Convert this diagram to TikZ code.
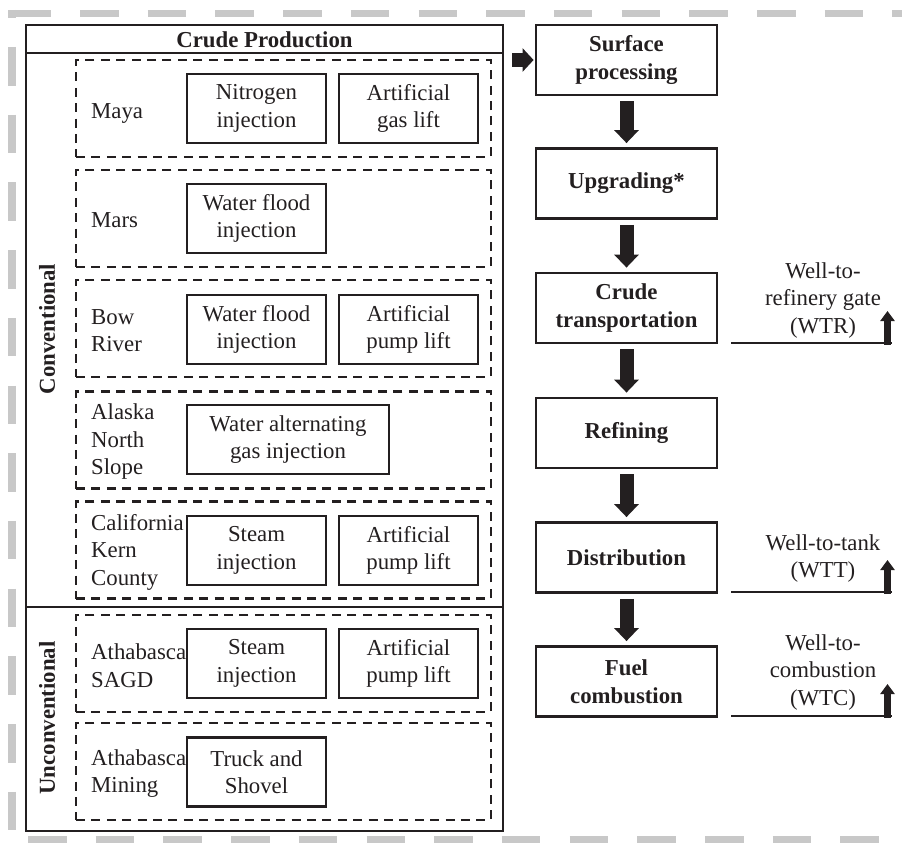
\documentclass[tikz,border=0pt]{standalone}
\usepackage{fontspec}
\setmainfont{Liberation Serif}
\usetikzlibrary{arrows.meta}
\definecolor{framegray}{HTML}{C8C8C8}
\definecolor{ink}{HTML}{231F20}
\begin{document}
\begin{tikzpicture}[x=1pt,y=-1pt,
  every node/.style={font=\fontsize{22.8}{27.5}\selectfont, text=ink},
  frameline/.style={draw=framegray, line width=7.5pt, dash pattern=on 38.5pt off 29.2pt},
  sbox/.style={draw=ink, line width=2.8pt, inner sep=0pt, minimum width=139pt, minimum height=69pt, align=center},
  grp/.style={draw=ink, line width=2.7pt, dash pattern=on 9pt off 6.4pt, minimum width=415pt, minimum height=97pt, inner sep=0pt},
  lbl/.style={anchor=west, align=left, inner sep=0pt},
  stage/.style={draw=ink, line width=2.8pt, inner sep=0pt, minimum width=181pt, minimum height=70pt, align=center, font=\fontsize{22.8}{27.5}\selectfont\bfseries},
  flow/.style={draw=ink, line width=14pt, -{Triangle[width=24pt,length=13pt]}, shorten <=5pt, shorten >=4pt},
  upflow/.style={draw=ink, line width=6.5pt, -{Triangle[width=14pt,length=10pt]}},
  bound/.style={draw=ink, line width=2.8pt},
  wlabel/.style={align=center, inner sep=0pt}
]
\useasboundingbox (0,0) rectangle (902,843);

% decorative gray frame
\draw[frameline] (12.3,13.5) -- (902,13.5);
\draw[frameline, dash phase=30.7pt] (12,10) -- (12,843);
\draw[frameline] (28,840) -- (902,840);

% crude production panel
\node[draw=ink, line width=2.8pt, minimum width=477pt, minimum height=806pt, inner sep=0pt] (prod) at (264.5,428) {};
\node[font=\fontsize{22.8}{27.5}\selectfont\bfseries] (prodtitle) at (264.5,39.5) {Crude Production};
\coordinate (hdrL) at (26,53);
\coordinate (hdrR) at (503,53);
\draw[bound] (hdrL) -- (hdrR);
\coordinate (divL) at (26,607);
\coordinate (divR) at (503,607);
\draw[bound] (divL) -- (divR);
\node[rotate=90, font=\fontsize{22.8}{27.5}\selectfont\bfseries] (conv) at (47,329) {Conventional};
\node[rotate=90, font=\fontsize{22.8}{27.5}\selectfont\bfseries] (unconv) at (47,718) {Unconventional};

% groups
\node[grp] (g1) at (283.5,108.5) {};
\node[grp] (g2) at (283.5,218.5) {};
\node[grp] (g3) at (283.5,328.5) {};
\node[grp] (g4) at (283.5,440) {};
\node[grp] (g5) at (283.5,550) {};
\node[grp] (g6) at (283.5,663.5) {};
\node[grp] (g7) at (283.5,771.5) {};

\node[lbl] (l1) at (91,113) {Maya};
\node[lbl] (l2) at (91,220.5) {Mars};
\node[lbl] (l3) at (91,330.5) {Bow\\River};
\node[lbl] (l4) at (91,442) {Alaska\\North\\Slope};
\node[lbl] (l5) at (91,552) {California\\Kern\\County};
\node[lbl] (l6) at (91,665.5) {Athabasca\\SAGD};
\node[lbl] (l7) at (91,773.5) {Athabasca\\Mining};

\node[sbox] (b1a) at (256.5,108.5) {Nitrogen\\injection};
\node[sbox] (b1b) at (408.5,108.5) {Artificial\\gas lift};
\node[sbox] (b2a) at (256.5,218.5) {Water flood\\injection};
\node[sbox] (b3a) at (256.5,329.5) {Water flood\\injection};
\node[sbox] (b3b) at (408.5,329.5) {Artificial\\pump lift};
\node[sbox, minimum width=202pt] (b4a) at (288,439.5) {Water alternating\\gas injection};
\node[sbox] (b5a) at (256.5,550.5) {Steam\\injection};
\node[sbox] (b5b) at (408.5,550.5) {Artificial\\pump lift};
\node[sbox] (b6a) at (256.5,663.5) {Steam\\injection};
\node[sbox] (b6b) at (408.5,663.5) {Artificial\\pump lift};
\node[sbox] (b7a) at (256.5,772) {Truck and\\Shovel};

% stages
\node[stage] (surf) at (626.5,60) {Surface\\processing};
\node[stage] (upg) at (626.5,183.5) {Upgrading*};
\node[stage] (trans) at (626.5,308) {Crude\\transportation};
\node[stage] (refi) at (626.5,433) {Refining};
\node[stage] (dist) at (626.5,557.5) {Distribution};
\node[stage] (comb) at (626.5,681.5) {Fuel\\combustion};

\draw[flow, line width=14pt, -{Triangle[width=23pt,length=11pt]}, shorten <=8pt, shorten >=1pt] (prod.east |- surf.west) -- (surf.west);
\draw[flow] (surf) -- (upg);
\draw[flow] (upg) -- (trans);
\draw[flow] (trans) -- (refi);
\draw[flow] (refi) -- (dist);
\draw[flow] (dist) -- (comb);

% boundaries
\coordinate (wtrL) at (731,343);
\coordinate (wtrR) at (892,343);
\coordinate (wtrB) at (887.5,344.5);
\coordinate (wtrT) at (887.5,311);
\draw[bound] (wtrL) -- (wtrR);
\draw[upflow] (wtrB) -- (wtrT);
\node[wlabel] (wtr) at (823,300.5) {Well-to-\\refinery gate\\(WTR)};

\coordinate (wttL) at (731,592);
\coordinate (wttR) at (892,592);
\coordinate (wttB) at (887.5,593.5);
\coordinate (wttT) at (887.5,560);
\draw[bound] (wttL) -- (wttR);
\draw[upflow] (wttB) -- (wttT);
\node[wlabel] (wtt) at (823,558.5) {Well-to-tank\\(WTT)};

\coordinate (wtcL) at (731,716);
\coordinate (wtcR) at (892,716);
\coordinate (wtcB) at (887.5,717.5);
\coordinate (wtcT) at (887.5,684);
\draw[bound] (wtcL) -- (wtcR);
\draw[upflow] (wtcB) -- (wtcT);
\node[wlabel] (wtc) at (823,672.5) {Well-to-\\combustion\\(WTC)};
\end{tikzpicture}
\end{document}
